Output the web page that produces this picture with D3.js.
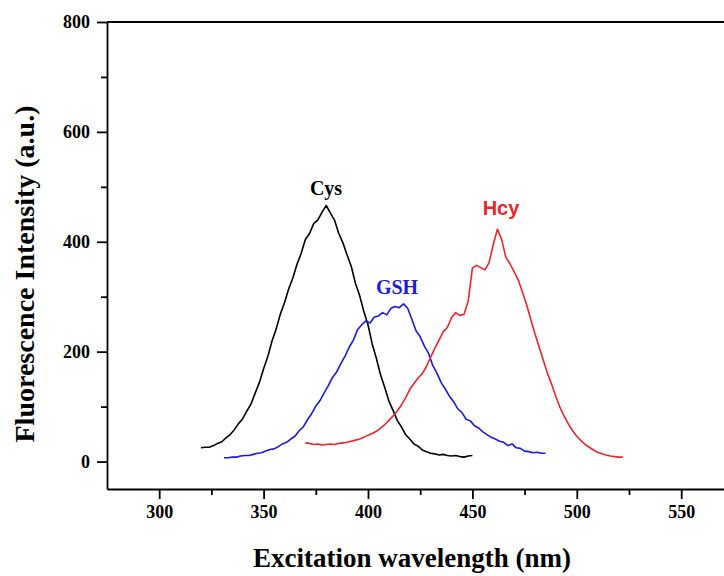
<!DOCTYPE html>
<html>
<head>
<meta charset="utf-8">
<script src="https://cdn.jsdelivr.net/npm/d3@7"></script>
<style>
  body { margin: 0; background: #fff; }
  svg { display: block; }
</style>
</head>
<body>
<div id="chart"></div>
<script>
// excitation spectra
var cysX = d3.range(320, 451, 2);
var cysY = [25, 26, 26, 29, 33, 36, 43, 49, 58, 69, 78, 92, 105, 125, 144, 169, 191, 219, 241, 268,
            289, 314, 334, 359, 379, 404, 415, 433, 440, 454, 466, 452, 439, 415, 398, 376, 355, 324, 302, 273,
            249, 214, 188, 158, 135, 110, 93, 75, 63, 49, 41, 32, 28, 21, 18, 15, 14, 12, 13, 11,
            10, 11, 9, 8, 10, 11];

var gshX = d3.range(331, 486, 2);
var gshY = [7, 7, 8, 8, 10, 11, 11, 13, 15, 16, 19, 22, 23, 27, 32, 35, 41, 46, 56, 63,
            76, 87, 101, 111, 125, 138, 153, 163, 178, 192, 208, 221, 240, 249, 256, 252, 263, 265, 271, 267,
            279, 282, 280, 287, 279, 259, 238, 227, 210, 197, 175, 161, 144, 132, 119, 109, 96, 89, 77, 74,
            65, 61, 54, 49, 44, 41, 37, 35, 29, 32, 25, 24, 19, 18, 16, 17, 15, 15];

var hcyX = d3.range(370, 523, 2);
var hcyY = [34, 33, 31, 32, 30, 31, 32, 31, 33, 34, 35, 37, 39, 41, 44, 48, 51, 55, 61, 67,
            75, 83, 92, 103, 116, 131, 142, 152, 160, 173, 190, 206, 221, 236, 244, 262, 271, 266, 268, 292,
            352, 357, 353, 349, 362, 395, 423, 404, 372, 360, 345, 330, 308, 285, 258, 232, 208, 184, 160, 140,
            118, 98, 82, 68, 56, 46, 38, 31, 26, 21, 17, 14, 12, 10, 9, 8, 8];

var xMajor = [300, 350, 400, 450, 500, 550];
var xMinor = [325, 375, 425, 475, 525, 575];
var yMajor = [0, 200, 400, 600, 800];
var yMinor = [100, 300, 500, 700];

var series = [
  {name: 'Cys', x: cysX, y: cysY, color: '#000000', lx: 326, ly: 195, font: 'Liberation Serif'},
  {name: 'GSH', x: gshX, y: gshY, color: '#1a1ae0', lx: 397, ly: 294, font: 'Liberation Serif'},
  {name: 'Hcy', x: hcyX, y: hcyY, color: '#e8262b', lx: 501, ly: 215, font: 'Liberation Sans'}
];

var W = 724, H = 576;
var mLeft = 107, mTop = 22, mBottom = 489;

var svg = d3.select('#chart').append('svg')
    .attr('width', W)
    .attr('height', H);

var x = d3.scaleLinear().domain([275, 575]).range([mLeft, mLeft + 300 * 2.088]);
var y = d3.scaleLinear().domain([-50, 800]).range([mBottom, mTop]);

var serif = 'Liberation Serif, Times New Roman, serif';

// x axis
var gx = svg.append('g').attr('transform', 'translate(0,' + mBottom + ')');
gx.call(d3.axisBottom(x).tickValues(xMajor).tickSize(10).tickSizeOuter(0).tickPadding(6));
gx.append('g').call(d3.axisBottom(x).tickValues(xMinor).tickSize(6).tickFormat(''))
  .select('.domain').remove();

// y axis
var gy = svg.append('g').attr('transform', 'translate(' + mLeft + ',0)');
gy.call(d3.axisLeft(y).tickValues(yMajor).tickSize(10).tickSizeOuter(0).tickPadding(7));
gy.append('g').call(d3.axisLeft(y).tickValues(yMinor).tickSize(6).tickFormat(''))
  .select('.domain').remove();

svg.selectAll('.domain, .tick line').attr('stroke', '#000').attr('stroke-width', 1.8);
svg.selectAll('.tick text')
  .attr('font-family', serif)
  .attr('font-weight', 'bold')
  .attr('font-size', 18)
  .attr('fill', '#000');

// top frame line
svg.append('line')
  .attr('x1', mLeft).attr('x2', W)
  .attr('y1', mTop).attr('y2', mTop)
  .attr('stroke', '#000').attr('stroke-width', 1.8);

// curves
var line = d3.line()
  .x(function(d) { return x(d[0]); })
  .y(function(d) { return y(d[1]); });

series.forEach(function(s) {
  var pts = s.x.map(function(v, i) { return [v, s.y[i]]; });
  svg.append('path')
    .datum(pts)
    .attr('d', line)
    .attr('fill', 'none')
    .attr('stroke', s.color)
    .attr('stroke-width', 1.6)
    .attr('stroke-linejoin', 'round');
  svg.append('text')
    .attr('x', s.lx).attr('y', s.ly)
    .attr('text-anchor', 'middle')
    .attr('font-family', s.font)
    .attr('font-weight', 'bold')
    .attr('font-size', 20)
    .attr('fill', s.color)
    .text(s.name);
});

// axis titles
svg.append('text')
  .attr('x', 412).attr('y', 567)
  .attr('text-anchor', 'middle')
  .attr('font-family', serif)
  .attr('font-weight', 'bold')
  .attr('font-size', 27)
  .text('Excitation wavelength (nm)');

svg.append('text')
  .attr('transform', 'translate(34,274)rotate(-90)')
  .attr('text-anchor', 'middle')
  .attr('font-family', serif)
  .attr('font-weight', 'bold')
  .attr('font-size', 28)
  .text('Fluorescence Intensity (a.u.)');
</script>
</body>
</html>
